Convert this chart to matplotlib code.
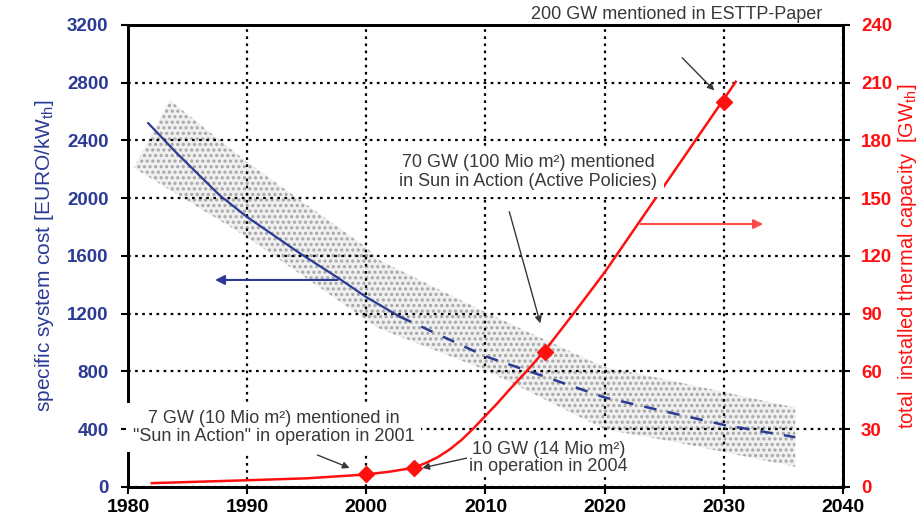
import matplotlib
matplotlib.use("Agg")
import matplotlib.pyplot as plt

plt.rcParams['font.family'] = ['Liberation Sans', 'DejaVu Sans']
plt.rcParams['mathtext.fontset'] = 'custom'
plt.rcParams['mathtext.rm'] = 'Liberation Sans'
plt.rcParams['mathtext.it'] = 'Liberation Sans'
plt.rcParams['hatch.linewidth'] = 1.5

# ---- data ----
cost_solid_years = [1981.7, 1984, 1987.7, 1990, 1994.4, 1997.6, 2000, 2002.8]
cost_solid = [2520, 2320, 2020, 1870, 1620, 1450, 1315, 1180]
cost_dash_years = [2002.8, 2010, 2014.6, 2020, 2025.5, 2030, 2036]
cost_dash = [1180, 905, 775, 620, 515, 430, 345]

band_upper_years = [1980.5, 1983.5, 1990, 2000, 2001, 2010, 2020, 2026, 2036]
band_upper = [2210, 2680, 2250, 1660, 1575, 1210, 830, 730, 550]
band_lower_years = [1980.5, 1990, 2001, 2010, 2020, 2026, 2036]
band_lower = [2210, 1730, 1100, 810, 400, 310, 140]

cap_years = [1982, 1990, 1995, 2000, 2002, 2004, 2005, 2006, 2007, 2008, 2009,
             2010, 2011, 2012, 2013.5, 2015, 2017.5, 2020, 2023, 2025, 2028, 2030, 2031]
cap_values = [2, 3.5, 4.5, 6.5, 8, 10, 12.5, 15.5, 19.5, 24.5, 30.5,
              37, 43.5, 50.5, 60.5, 71, 91, 111.5, 138.5, 156.5, 183.5, 201.5, 210.5]

marker_years = [2000, 2004, 2015, 2030]
marker_values = [7, 10, 70, 200]

x_ticks = [1980, 1990, 2000, 2010, 2020, 2030, 2040]
left_ticks = [0, 400, 800, 1200, 1600, 2000, 2400, 2800, 3200]
right_ticks = [0, 30, 60, 90, 120, 150, 180, 210, 240]

BLUE = '#2b3b94'
RED = '#ff1010'
TXT = '#383838'

fig = plt.figure(figsize=(9.22, 5.25), dpi=100)
ax = fig.add_axes([0.1388, 0.0724, 0.7755, 0.88])
ax2 = ax.twinx()

ax.set_xlim(1980, 2040)
ax.set_ylim(0, 3200)
ax2.set_ylim(0, 240)

# band
poly_x = band_upper_years + band_lower_years[::-1]
poly_y = band_upper + band_lower[::-1]
ax.fill(poly_x, poly_y, facecolor='#f0f0f0', edgecolor='#a6a6a6', hatch='...',
        linewidth=0, zorder=0.5)

# grid
ax.set_xticks(x_ticks)
ax.set_yticks(left_ticks)
ax2.set_yticks(right_ticks)
ax.grid(True, color='black', linestyle=(0, (1.2, 2.0)), linewidth=1.6, zorder=1)

# cost line
ax.plot(cost_solid_years, cost_solid, color=BLUE, lw=1.6, zorder=3)
ax.plot(cost_dash_years, cost_dash, color=BLUE, lw=1.8, dashes=(5, 4.5), zorder=3)

# capacity line
ax2.plot(cap_years, cap_values, color=RED, lw=1.8, zorder=3)
ax2.plot(marker_years, marker_values, linestyle='none', marker='D', color=RED,
         markersize=8, zorder=4)

# axis direction arrows
ax.annotate('', xy=(1987.3, 1434), xytext=(1997.6, 1434),
            arrowprops=dict(arrowstyle='-|>', color=BLUE, lw=1.5,
                            mutation_scale=14, shrinkA=0, shrinkB=0))
ax2.annotate('', xy=(2033.3, 136.6), xytext=(2023, 136.6),
             arrowprops=dict(arrowstyle='-|>', color='#ff4a4a', lw=1.5,
                             mutation_scale=14, shrinkA=0, shrinkB=0))

# annotations
arr = dict(arrowstyle='-|>', color=TXT, lw=1.0, mutation_scale=10,
           shrinkA=0, shrinkB=0)
FS = 13

ax2.text(2026.0, 245.7, '200 GW mentioned in ESTTP-Paper', ha='center',
         va='center', fontsize=FS, color=TXT, clip_on=False)
ax2.annotate('', xy=(2029.2, 206), xytext=(2026.5, 223), arrowprops=arr)

ax2.text(2013.6, 163.6, '70 GW (100 Mio m²) mentioned\nin Sun in Action (Active Policies)',
         ha='center', va='center', fontsize=FS, color=TXT,
         bbox=dict(facecolor='white', edgecolor='none', pad=5),
         linespacing=1.1, zorder=5)
ax2.annotate('', xy=(2014.6, 85), xytext=(2012.0, 143), arrowprops=arr)

ax2.text(1992.2, 30.9, '7 GW (10 Mio m²) mentioned in\n"Sun in Action" in operation in 2001',
         ha='center', va='center', fontsize=FS, color=TXT,
         bbox=dict(facecolor='white', edgecolor='none', pad=5),
         linespacing=1.05, zorder=5)
ax2.annotate('', xy=(1998.6, 9.9), xytext=(1995.9, 16.6), arrowprops=arr)

ax2.text(2015.3, 15.1, '10 GW (14 Mio m²)\nin operation in 2004',
         ha='center', va='center', fontsize=FS, color=TXT,
         bbox=dict(facecolor='white', edgecolor='none', pad=1.5),
         linespacing=1.05, zorder=5)
ax2.annotate('', xy=(2004.7, 9.9), xytext=(2008.5, 15.1), arrowprops=arr)

# spines and ticks
for a in (ax, ax2):
    for s in a.spines.values():
        s.set_linewidth(2.0)
        s.set_color('black')

ax.tick_params(axis='x', direction='out', length=5, width=1.5, colors='black',
               labelsize=14, pad=4)
ax.tick_params(axis='y', direction='out', length=5, width=1.5, colors='black',
               labelcolor=BLUE, labelsize=13.5, pad=9)
ax2.tick_params(axis='y', direction='out', length=5, width=1.5, colors='black',
                labelcolor=RED, labelsize=13.5, pad=8)
for lab in ax.get_xticklabels() + ax.get_yticklabels() + ax2.get_yticklabels():
    lab.set_fontweight('bold')

ax.set_ylabel('specific system cost [EURO/kW$_{\\mathrm{th}}$]', color=BLUE,
              fontsize=15, labelpad=8)
ax2.set_ylabel('total  installed thermal capacity  [GW$_{\\mathrm{th}}$]', color=RED,
               fontsize=14.5, labelpad=3)

fig.savefig('out.png', dpi=100)
